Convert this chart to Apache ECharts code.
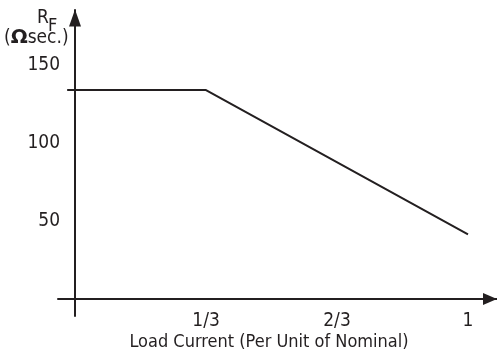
<!DOCTYPE html>
<html><head><meta charset="utf-8">
<script src="https://cdn.jsdelivr.net/npm/echarts@6/dist/echarts.min.js"></script>
<style>html,body{margin:0;padding:0;background:#fff}#c{width:497px;height:358px}</style>
</head><body><div id="c"></div>
<script>
const xTickValues = [1/3, 2/3, 1];
const xTickLabels = ['1/3', '2/3', '1'];
const yTickValues = [50, 100, 150];
const curveX = [-0.02, 1/3, 1];
const curveY = [134, 134, 41.5];
const xTitle = 'Load Current (Per Unit of Nominal)';

const ink = '#231f20';
const font = '"DejaVu Sans Condensed", "Liberation Sans Narrow", Roboto, sans-serif';
const chart = echarts.init(document.getElementById('c'));
chart.setOption({
  animation: false,
  backgroundColor: '#fff',
  grid: {left: 58, right: 0, top: 10, bottom: 42, outerBoundsMode: 'none', containLabel: false},
  xAxis: {
    type: 'value', min: -0.0433, max: 1.0738,
    splitLine: {show: false},
    axisTick: {show: false},
    axisLine: {onZero: true, lineStyle: {color: ink, width: 2}, symbol: ['none', 'triangle'], symbolSize: [12, 14], symbolOffset: [0, -7]},
    axisLabel: {
      customValues: xTickValues, margin: -4, color: ink, fontFamily: font, fontSize: 19,
      formatter: v => { const i = xTickValues.findIndex(t => Math.abs(t - v) < 1e-6); return i >= 0 ? xTickLabels[i] : ''; }
    }
  },
  yAxis: {
    type: 'value', min: -10.9, max: 185.3,
    splitLine: {show: false},
    axisTick: {show: false},
    axisLine: {onZero: true, lineStyle: {color: ink, width: 2}, symbol: ['none', 'triangle'], symbolSize: [12, 17], symbolOffset: [0, -8]},
    axisLabel: {customValues: yTickValues, margin: -2, color: ink, fontFamily: font, fontSize: 19}
  },
  graphic: [
    {type: 'text', left: 37, top: 9, style: {text: 'R', fontFamily: font, fontSize: 19, fill: ink}},
    {type: 'text', left: 48, top: 17, style: {text: 'F', fontFamily: font, fontSize: 18, fill: ink}},
    {type: 'text', left: 4, top: 28, style: {
      text: '({o|Ω}sec.)', fontFamily: font, fontSize: 19, fill: ink, rich: {
        o: {fontFamily: 'DejaVu Sans', fontWeight: 'bold', fontSize: 20, fill: ink}
      }}},
    {type: 'text', x: 269, y: 342, style: {
      text: xTitle, fontFamily: font, fontSize: 18, fill: ink, align: 'center', verticalAlign: 'middle'}}
  ],
  series: [{
    type: 'line', symbol: 'none',
    data: curveX.map((x, i) => [x, curveY[i]]),
    lineStyle: {color: ink, width: 2}
  }]
});
</script></body></html>
